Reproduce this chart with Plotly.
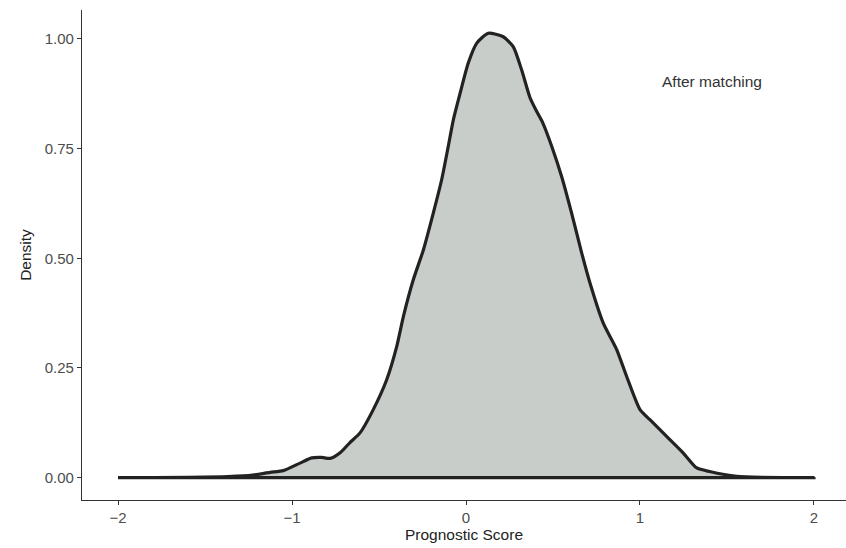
import plotly.graph_objects as go

# Density curve (prognostic score vs density)
score = [-2.0, -1.6, -1.4, -1.24, -1.126, -1.05, -0.954, -0.887, -0.83, -0.78, -0.72,
         -0.667, -0.609, -0.533, -0.456, -0.398, -0.36, -0.303, -0.245, -0.188, -0.14,
         -0.102, -0.073, -0.034, 0.013, 0.061, 0.128, 0.214, 0.272, 0.32, 0.368, 0.406, 0.44,
         0.493, 0.55, 0.607, 0.665, 0.713, 0.789, 0.866, 0.923, 1.0, 1.057, 1.153, 1.249,
         1.326, 1.40, 1.556, 1.7, 2.0]
density = [0.0, 0.0005, 0.002, 0.005, 0.012, 0.016, 0.033, 0.045, 0.046, 0.044, 0.058,
           0.08, 0.102, 0.155, 0.223, 0.299, 0.367, 0.451, 0.519, 0.603, 0.679,
           0.755, 0.815, 0.876, 0.945, 0.99, 1.013, 1.005, 0.982, 0.929, 0.866, 0.835, 0.81,
           0.755, 0.686, 0.603, 0.512, 0.443, 0.352, 0.292, 0.231, 0.155, 0.132, 0.094, 0.056,
           0.022, 0.014, 0.003, 0.0005, 0.0]

x_ticks = [-2, -1, 0, 1, 2]
y_ticks = [0.0, 0.25, 0.5, 0.75, 1.0]
y_tick_labels = ["0.00", "0.25", "0.50", "0.75", "1.00"]
label_text = "After matching"

FONT = "Liberation Sans, Arial, sans-serif"

fig = go.Figure()
fig.add_trace(go.Scatter(
    x=score + [score[0]], y=density + [0.0],
    fill="toself", fillcolor="#c9cdca",
    mode="lines", line=dict(color="#222222", width=3.2, shape="spline", smoothing=0.6),
    hoverinfo="skip", showlegend=False,
))

fig.add_annotation(x=1.414, y=0.902, text=label_text, showarrow=False,
                   font=dict(family=FONT, size=15.5, color="#333333"))

axis_common = dict(showline=True, linecolor="#333333", linewidth=1.3, ticks="outside",
                   ticklen=4, tickcolor="#333333", tickwidth=1.3, showgrid=False, zeroline=False,
                   tickfont=dict(family=FONT, size=15, color="#4d4d4d"))

fig.update_layout(
    width=846, height=548,
    margin=dict(l=82, r=0, t=10, b=48),
    paper_bgcolor="white", plot_bgcolor="white",
    xaxis=dict(range=[-2.207, 2.184], tickvals=x_ticks,
               title=dict(text="Prognostic Score", standoff=3,
                          font=dict(family=FONT, size=15.5, color="#222222")),
               **axis_common),
    yaxis=dict(range=[-0.051, 1.066], tickvals=y_ticks, ticktext=y_tick_labels,
               title=dict(text="Density", standoff=9,
                          font=dict(family=FONT, size=15.5, color="#222222")),
               **axis_common),
)

fig.write_html("out.html", config={"displayModeBar": False},
               post_script="document.body.style.margin='0';document.body.style.overflow='hidden';")
